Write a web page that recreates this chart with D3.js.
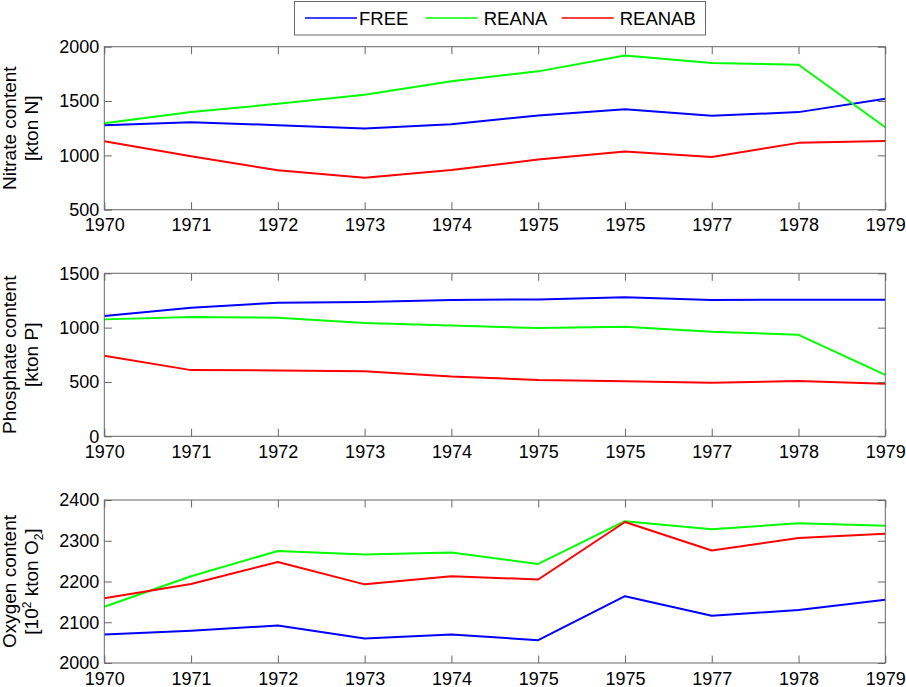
<!DOCTYPE html>
<html>
<head>
<meta charset="utf-8">
<script src="https://cdn.jsdelivr.net/npm/d3@7"></script>
<style>
  body { margin: 0; background: #fff; }
  svg { display: block; font-family: "Liberation Sans", Arial, sans-serif; }
</style>
</head>
<body>
<div id="chart"></div>
<script>
// Data ----------------------------------------------
const tickLabels = ["1970", "1971", "1972", "1973", "1974", "1975", "1975", "1977", "1978", "1979"];
const seriesNames = ["FREE", "REANA", "REANAB"];

const nitrateFree   = [1278, 1305, 1278, 1247, 1287, 1367, 1425, 1364, 1398, 1520];
const nitrateReana  = [1296, 1400, 1474, 1557, 1683, 1773, 1920, 1849, 1834, 1259];
const nitrateReanab = [1130, 992, 863, 795, 866, 961, 1035, 986, 1115, 1133];

const phosphateFree   = [1107, 1183, 1229, 1236, 1254, 1260, 1279, 1254, 1257, 1257];
const phosphateReana  = [1076, 1097, 1091, 1042, 1020, 996, 1008, 962, 934, 565];
const phosphateReanab = [741, 609, 606, 599, 550, 519, 507, 492, 510, 483];

const oxygenFree   = [2070, 2079, 2092, 2060, 2070, 2056, 2164, 2116, 2130, 2155];
const oxygenReana  = [2138, 2213, 2275, 2266, 2271, 2243, 2348, 2328, 2343, 2337];
const oxygenReanab = [2159, 2194, 2248, 2193, 2213, 2205, 2346, 2276, 2307, 2317];

const nitrateTicks = [500, 1000, 1500, 2000];
const phosphateTicks = [0, 500, 1000, 1500];
const oxygenTicks = [2000, 2100, 2200, 2300, 2400];

// Constants ----------------------------------------------
const width = 906;
const height = 687;
const plotLeft = 104.3;
const plotRight = 885.3;
const panelHeight = 163;
const panelTops = [46.7, 273.3, 500];

const colors = ["#0000ff", "#00ff00", "#ff0000"];
const axisColor = "#666666";
const tickLen = 7.5;

const panels = [
  { top: panelTops[0], domain: [500, 2000], ticks: nitrateTicks,
    series: [nitrateFree, nitrateReana, nitrateReanab],
    label1: "Nitrate content", label2: [{t: "[kton N]"}] },
  { top: panelTops[1], domain: [0, 1500], ticks: phosphateTicks,
    series: [phosphateFree, phosphateReana, phosphateReanab],
    label1: "Phosphate content", label2: [{t: "[kton P]"}] },
  { top: panelTops[2], domain: [2000, 2400], ticks: oxygenTicks,
    series: [oxygenFree, oxygenReana, oxygenReanab],
    label1: "Oxygen content",
    label2: [{t: "[10"}, {t: "2", sup: true}, {t: " kton O"}, {t: "2", sub: true}, {t: "]"}] }
];

// Scale functions ----------------------------------------------
const xScale = d3.scaleLinear()
  .domain([0, tickLabels.length - 1])
  .range([plotLeft, plotRight]);

// Functions ----------------------------------------------
function styleAxis(g) {
  g.select(".domain").remove();
  g.selectAll(".tick line").attr("stroke", axisColor);
  g.selectAll(".tick text").attr("fill", "#000").attr("font-size", 18);
}

function drawPanel(svg, p) {
  const y0 = p.top, y1 = p.top + panelHeight;
  const yScale = d3.scaleLinear().domain(p.domain).range([y1, y0]);
  const g = svg.append("g");

  // lines
  const line = d3.line()
    .x((d, i) => xScale(i))
    .y(d => yScale(d));

  p.series.forEach((s, k) => {
    g.append("path")
      .datum(s)
      .attr("fill", "none")
      .attr("stroke", colors[k])
      .attr("stroke-width", 2)
      .attr("stroke-linejoin", "round")
      .attr("d", line);
  });

  // axes (ticks pointing inward on all four sides)
  g.append("g")
    .attr("transform", `translate(0,${y1})`)
    .call(d3.axisBottom(xScale).tickValues(d3.range(tickLabels.length))
      .tickFormat(i => tickLabels[i]).tickSize(-tickLen).tickPadding(9))
    .call(styleAxis);

  g.append("g")
    .attr("transform", `translate(0,${y0})`)
    .call(d3.axisTop(xScale).tickValues(d3.range(tickLabels.length))
      .tickFormat("").tickSize(-tickLen))
    .call(styleAxis);

  g.append("g")
    .attr("transform", `translate(${plotLeft},0)`)
    .call(d3.axisLeft(yScale).tickValues(p.ticks).tickFormat(d3.format("d"))
      .tickSize(-tickLen).tickPadding(5))
    .call(styleAxis);

  g.append("g")
    .attr("transform", `translate(${plotRight},0)`)
    .call(d3.axisRight(yScale).tickValues(p.ticks).tickFormat("").tickSize(-tickLen))
    .call(styleAxis);

  // box
  g.append("rect")
    .attr("x", plotLeft)
    .attr("y", y0)
    .attr("width", plotRight - plotLeft)
    .attr("height", panelHeight)
    .attr("fill", "none")
    .attr("stroke", axisColor)
    .attr("stroke-width", 1);

  // y label (two lines)
  const cy = (y0 + y1) / 2;
  g.append("text")
    .attr("transform", `translate(15.5,${cy}) rotate(-90)`)
    .attr("text-anchor", "middle")
    .attr("font-size", 19)
    .text(p.label1);

  const t2 = g.append("text")
    .attr("transform", `translate(37.5,${cy}) rotate(-90)`)
    .attr("text-anchor", "middle")
    .attr("font-size", 19);
  p.label2.forEach((part, i) => {
    const ts = t2.append("tspan").text(part.t);
    const prev = p.label2[i - 1];
    if (part.sup) ts.attr("font-size", 12).attr("dy", -7);
    else if (part.sub) ts.attr("font-size", 12).attr("dy", 5);
    else if (prev && prev.sup) ts.attr("dy", 7);
    else if (prev && prev.sub) ts.attr("dy", -5);
  });
}

function drawLegend(svg) {
  const lg = svg.append("g");
  lg.append("rect")
    .attr("x", 294.5).attr("y", 1.5)
    .attr("width", 411).attr("height", 33.5)
    .attr("fill", "#fff")
    .attr("stroke", axisColor);

  const lineStarts = [305, 425.7, 561.7];
  seriesNames.forEach((name, k) => {
    lg.append("line")
      .attr("x1", lineStarts[k]).attr("x2", lineStarts[k] + 52)
      .attr("y1", 18).attr("y2", 18)
      .attr("stroke", colors[k])
      .attr("stroke-width", 1.5);
    lg.append("text")
      .attr("x", lineStarts[k] + 54 + (k === 0 ? 0 : 4))
      .attr("y", 24.5)
      .attr("font-size", 18.5)
      .text(name);
  });
}

// Initialize the SVG
const svg = d3.select("#chart")
  .append("svg")
  .attr("width", width)
  .attr("height", height);

panels.forEach(p => drawPanel(svg, p));
drawLegend(svg);
</script>
</body>
</html>
